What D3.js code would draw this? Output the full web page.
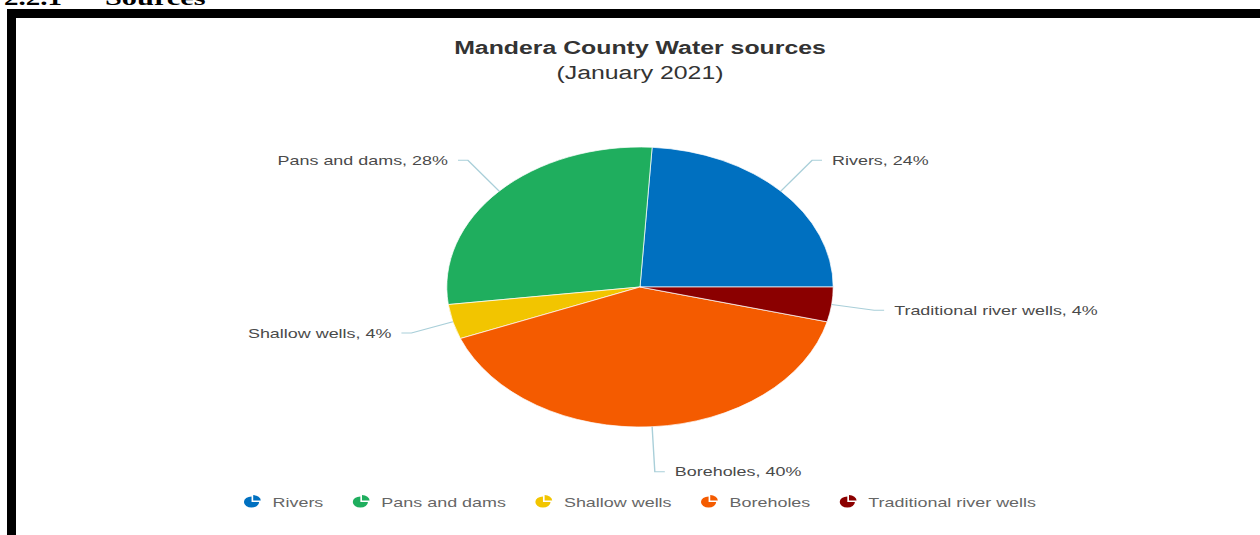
<!DOCTYPE html>
<html>
<head>
<meta charset="utf-8">
<script src="https://cdn.jsdelivr.net/npm/d3@7"></script>
<style>
  html, body { margin: 0; padding: 0; background: #fff; overflow: hidden; }
  svg { display: block; }
</style>
</head>
<body>
<script>
// Water source shares, Mandera County, January 2021
const categories = ["Rivers", "Pans and dams", "Shallow wells", "Boreholes", "Traditional river wells"];
const shares = [24, 28, 4, 40, 4];
const colors = ["#0070c0", "#1fae5e", "#f2c500", "#f45b00", "#8b0000"];
const titleText = "Mandera County Water sources";
const subtitleText = "(January 2021)";
const headingNumber = "2.2.1";
const headingText = "Sources";

const W = 1260, H = 535;
const sx = 1.38;               // horizontal stretch of the embedded chart
const cx = 640 / sx, cy = 287, r = 140;

const svg = d3.select("body").append("svg")
  .attr("width", W).attr("height", H);

svg.append("rect").attr("width", W).attr("height", H).attr("fill", "#fff");

// black frame around the figure (continues past the right and bottom edges)
svg.append("rect")
  .attr("x", 11.5).attr("y", 13.5)
  .attr("width", W + 40).attr("height", H + 40)
  .attr("fill", "#fff").attr("stroke", "#000").attr("stroke-width", 9);

const g = svg.append("g").attr("transform", `scale(${sx},1)`);

// section heading above the frame
const serif = "'Liberation Serif', 'Times New Roman', serif";
g.append("text").attr("x", 4 / sx).attr("y", 5)
  .attr("font-family", serif).attr("font-weight", "bold")
  .attr("font-size", 21).attr("fill", "#000")
  .text(headingNumber);
g.append("text").attr("x", 105 / sx).attr("y", 5)
  .attr("font-family", serif).attr("font-weight", "bold")
  .attr("font-size", 22).attr("fill", "#000")
  .text(headingText);

const font = "'Liberation Sans', Arial, Helvetica, sans-serif";

// titles
g.append("text").attr("x", cx).attr("y", 54)
  .attr("text-anchor", "middle").attr("font-family", font)
  .attr("font-weight", "bold").attr("font-size", 18).attr("fill", "#333")
  .text(titleText);
g.append("text").attr("x", cx).attr("y", 79)
  .attr("text-anchor", "middle").attr("font-family", font)
  .attr("font-size", 18).attr("fill", "#333")
  .text(subtitleText);

// pie, drawn counter-clockwise from 3 o'clock
const data = categories.map((c, i) => ({ name: c, value: shares[i], color: colors[i] }));
const pie = d3.pie().value(d => d.value).sort(null)
  .startAngle(Math.PI / 2).endAngle(Math.PI / 2 - 2 * Math.PI);
const arcs = pie(data);
const arc = d3.arc().innerRadius(0).outerRadius(r);

const pg = g.append("g").attr("transform", `translate(${cx},${cy})`);
pg.selectAll("path.slice").data(arcs).enter().append("path")
  .attr("class", "slice")
  .attr("d", arc)
  .attr("fill", d => d.data.color)
  .attr("stroke", "#fff").attr("stroke-width", 0.6);

// data labels with connectors
const breakRx = 236 / sx, breakRy = 185;
const lbl = pg.selectAll("g.lbl").data(arcs).enter().append("g").attr("class", "lbl");
lbl.each(function (d) {
  const a = (d.startAngle + d.endAngle) / 2;
  const s = Math.sin(a), c = Math.cos(a);
  const side = s >= 0 ? 1 : -1;
  const p0 = [r * s, -r * c];
  const p1 = [breakRx * s, -breakRy * c];
  const p2 = [p1[0] + side * 10 / sx, p1[1]];
  const sel = d3.select(this);
  sel.append("path")
    .attr("d", d3.line()([p0, p1, p2]))
    .attr("fill", "none").attr("stroke", "#a9cfd9").attr("stroke-width", 1);
  sel.append("text")
    .attr("x", p1[0] + side * 20 / sx).attr("y", p1[1]).attr("dy", "0.35em")
    .attr("text-anchor", side > 0 ? "start" : "end")
    .attr("font-family", font).attr("font-size", 13).attr("fill", "#4a4a4a")
    .text(`${d.data.name}, ${d.data.value}%`);
});

// legend
const legend = g.append("g");
const iconR = 5.5, textOff = 21 / sx, itemGap = 37 / sx;
let lx = 0;
const items = legend.selectAll("g.item").data(data).enter().append("g").attr("class", "item");
items.each(function (d) {
  const it = d3.select(this);
  const q = d3.arc().innerRadius(0).outerRadius(iconR);
  it.append("path")
    .attr("d", q({ startAngle: Math.PI / 2, endAngle: 2 * Math.PI }))
    .attr("fill", d.color);
  it.append("path")
    .attr("transform", "translate(1.2,-1.4)")
    .attr("d", q({ startAngle: 0, endAngle: Math.PI / 2 }))
    .attr("fill", d.color);
  const t = it.append("text")
    .attr("x", textOff).attr("y", 0).attr("dy", "0.35em")
    .attr("font-family", font).attr("font-size", 13).attr("fill", "#666")
    .text(d.name);
  const w = t.node().getComputedTextLength();
  it.attr("transform", `translate(${lx},0)`);
  lx += textOff + w + itemGap;
});
// first icon centre at 0, last text end at lx - itemGap
const legendSpan = lx - itemGap + iconR;
legend.attr("transform", `translate(${cx - legendSpan / 2 + iconR},502)`);
</script>
</body>
</html>
